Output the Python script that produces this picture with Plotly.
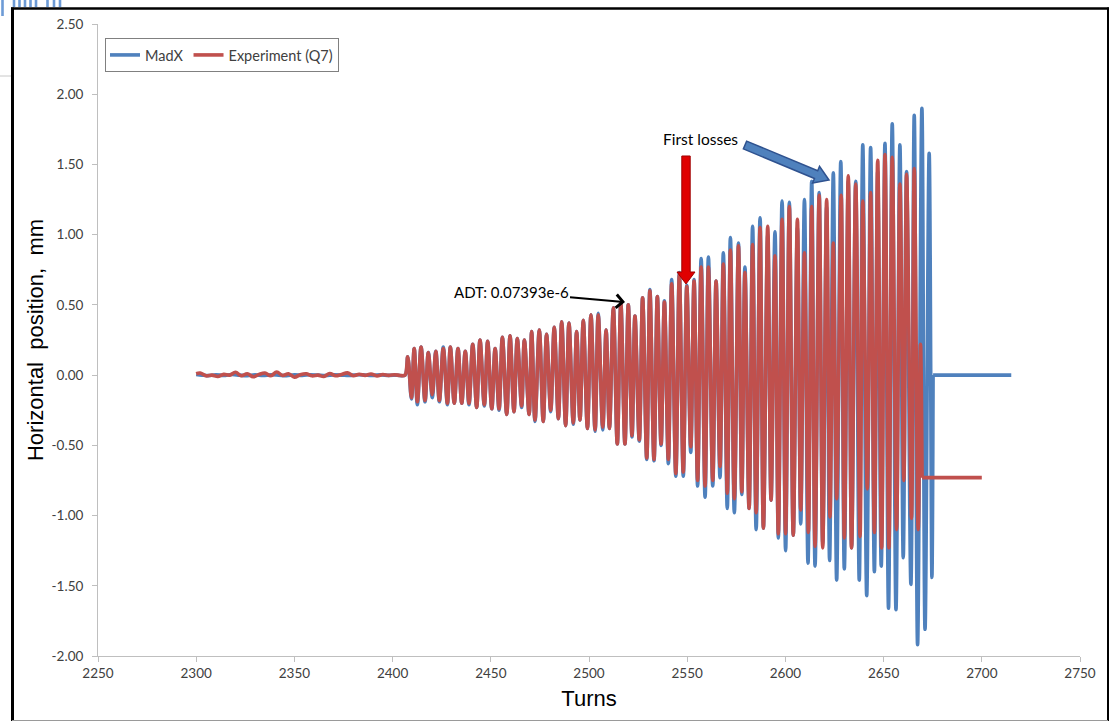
import math
import plotly.graph_objects as go

# ---------------- data ----------------
# MadX simulation: turn numbers and horizontal position (mm), extrema of the trace
mx_turns = [2300, 2303, 2306, 2310, 2314, 2318, 2322, 2326, 2330, 2334, 2338, 2342,
            2346, 2350, 2354, 2358, 2362, 2366, 2370, 2374, 2378, 2382, 2386, 2390,
            2394, 2398, 2402, 2406.3,
            2407.7, 2409.6, 2411.0, 2412.6, 2414.5, 2416.5, 2418.2, 2420.2, 2422.0, 2423.8,
            2425.8, 2427.9, 2429.4, 2431.4, 2433.3, 2435.2, 2437.0, 2438.9, 2440.8, 2442.8,
            2444.5, 2446.7, 2448.4, 2450.5, 2452.2, 2454.2, 2455.9, 2458.1, 2459.8, 2461.8,
            2463.5, 2465.7, 2467.1, 2469.5, 2470.8, 2472.5, 2474.7, 2476.7, 2478.4, 2480.5,
            2482.3, 2484.4, 2486.1, 2488.1, 2489.8, 2492.0, 2493.7, 2495.4, 2497.1, 2499.2,
            2501.0, 2503.1, 2504.7, 2507.0, 2508.7, 2510.4, 2512.4, 2514.4, 2516.2, 2518.3,
            2520.0, 2521.9, 2523.4, 2525.6, 2527.3, 2529.4, 2531.0, 2533.1, 2534.8, 2536.7,
            2538.4, 2540.4, 2542.1, 2544.2, 2546.0, 2548.0, 2549.8, 2551.8, 2553.5, 2555.3,
            2557.1, 2559.1, 2560.8, 2563.0, 2564.7, 2566.7, 2568.4, 2570.4, 2572.0, 2574.0,
            2576.1, 2577.8, 2579.4, 2581.5, 2583.3, 2585.1, 2587.1, 2588.8, 2591.0, 2592.7,
            2594.7, 2596.4, 2598.3, 2600.1, 2602.0, 2604.0, 2606.1, 2607.8, 2609.7, 2611.5,
            2613.4, 2615.1, 2617.2, 2619.0, 2621.0, 2622.5, 2624.4, 2626.1, 2628.2, 2630.0,
            2632.0, 2633.7, 2635.8, 2637.6, 2639.4, 2641.4, 2643.4, 2645.3, 2647.0, 2648.8,
            2650.7, 2652.5, 2654.4, 2656.3, 2658.3, 2660.0, 2661.7, 2663.9, 2665.6, 2667.3,
            2669.5, 2671.1, 2673.2, 2674.6, 2675.2]
mx_pos = [0.005, 0.0, -0.004, 0.003, -0.003, 0.004, 0.0, -0.004, 0.002, -0.003, 0.003, 0.0,
          -0.004, 0.002, -0.002, 0.003, 0.0, -0.003, 0.002, 0.0, -0.003, 0.003, 0.0, -0.002,
          0.002, -0.002, 0.0, 0.0,
          0.13, -0.17, 0.19, -0.21, 0.20, -0.19, 0.16, -0.16, 0.17, -0.19,
          0.20, -0.21, 0.20, -0.20, 0.19, -0.20, 0.17, -0.21, 0.22, -0.23,
          0.25, -0.22, 0.24, -0.24, 0.19, -0.25, 0.27, -0.28, 0.28, -0.26,
          0.26, -0.23, 0.25, -0.28, 0.31, -0.33, 0.32, -0.33, 0.29, -0.26,
          0.34, -0.31, 0.38, -0.36, 0.37, -0.35, 0.31, -0.32, 0.39, -0.38,
          0.43, -0.40, 0.44, -0.39, 0.32, -0.38, 0.48, -0.49, 0.51, -0.49,
          0.50, -0.44, 0.42, -0.47, 0.55, -0.60, 0.61, -0.61, 0.56, -0.50,
          0.53, -0.63, 0.68, -0.72, 0.73, -0.72, 0.64, -0.55, 0.68, -0.79,
          0.83, -0.87, 0.84, -0.79, 0.67, -0.73, 0.87, -0.95, 0.98, -0.98,
          0.94, -0.85, 0.77, -0.95, 1.06, -1.10, 1.12, -1.09, 1.00, -0.89,
          1.02, -1.16, 1.24, -1.25, 1.23, -1.14, 1.05, -1.06, 1.25, -1.34,
          1.38, -1.36, 1.30, -1.20, 1.20, -1.32, 1.44, -1.46, 1.52, -1.38,
          1.38, -1.23, 1.38, -1.46, 1.64, -1.57, 1.62, -1.40, 1.45, -1.36,
          1.65, -1.66, 1.79, -1.67, 1.64, -1.30, 1.45, -1.49, 1.85, -1.92,
          1.90, -1.81, 1.58, -1.44, 0.0]
mx_tail_turns = [2675.2, 2715]
mx_tail_pos = [0.0, 0.0]

# Experiment (Q7)
ex_turns = [2300, 2302, 2305, 2308, 2311, 2314, 2317, 2320, 2323, 2326, 2329, 2332,
            2335, 2338, 2341, 2344, 2347, 2350, 2353, 2356, 2359, 2362, 2365, 2368,
            2371, 2374, 2377, 2380, 2383, 2386, 2389, 2392, 2395, 2398, 2401, 2404, 2406.3,
            2407.7, 2409.6, 2411.0, 2412.6, 2414.5, 2416.5, 2418.2, 2420.2, 2422.0, 2423.8,
            2425.8, 2427.9, 2429.4, 2431.4, 2433.3, 2435.2, 2437.0, 2438.9, 2440.8, 2442.8,
            2444.5, 2446.7, 2448.4, 2450.5, 2452.2, 2454.2, 2455.9, 2458.1, 2459.8, 2461.8,
            2463.5, 2465.7, 2467.1, 2469.5, 2470.8, 2472.5, 2474.7, 2476.7, 2478.4, 2480.5,
            2482.3, 2484.4, 2486.1, 2488.1, 2489.8, 2492.0, 2493.7, 2495.4, 2497.1, 2499.2,
            2501.0, 2503.1, 2504.7, 2507.0, 2508.7, 2510.4, 2512.4, 2514.4, 2516.2, 2518.3,
            2520.0, 2521.9, 2523.4, 2525.6, 2527.3, 2529.4, 2531.0, 2533.1, 2534.8, 2536.7,
            2538.4, 2540.4, 2542.1, 2544.2, 2546.0, 2548.0, 2549.8, 2551.8, 2553.5, 2555.3,
            2557.1, 2559.1, 2560.8, 2563.0, 2564.7, 2566.7, 2568.4, 2570.4, 2572.0, 2574.0,
            2576.1, 2577.8, 2579.4, 2581.5, 2583.3, 2585.1, 2587.1, 2588.8, 2591.0, 2592.7,
            2594.7, 2596.4, 2598.3, 2600.1, 2602.0, 2604.0, 2606.1, 2607.8, 2609.7, 2611.7,
            2613.4, 2615.1, 2617.2, 2619.0, 2621.0, 2622.7, 2624.4, 2626.1, 2628.4, 2630.0,
            2632.0, 2633.7, 2635.8, 2638.0, 2639.4, 2641.7, 2643.4, 2645.3, 2647.0, 2649.0,
            2650.7, 2652.7, 2654.4, 2656.6, 2658.3, 2660.3, 2661.7, 2664.2, 2665.6, 2667.6,
            2668.8, 2669.6]
ex_pos = [0.01, 0.015, -0.005, 0.0, -0.01, 0.005, 0.0, 0.02, -0.005, 0.01, -0.012, 0.005,
          0.015, -0.005, 0.022, -0.003, 0.01, -0.015, 0.003, 0.01, -0.005, 0.0, -0.01, 0.012,
          -0.005, 0.005, 0.016, -0.004, 0.006, -0.002, 0.008, -0.006, 0.004, -0.002, 0.003, -0.003, 0.0,
          0.13, -0.16, 0.19, -0.19, 0.20, -0.18, 0.16, -0.14, 0.17, -0.18,
          0.19, -0.20, 0.20, -0.20, 0.19, -0.20, 0.17, -0.20, 0.22, -0.23,
          0.25, -0.21, 0.24, -0.24, 0.19, -0.24, 0.27, -0.28, 0.28, -0.26,
          0.26, -0.22, 0.25, -0.28, 0.31, -0.32, 0.32, -0.33, 0.29, -0.25,
          0.34, -0.31, 0.38, -0.36, 0.37, -0.34, 0.31, -0.32, 0.39, -0.38,
          0.43, -0.39, 0.43, -0.37, 0.32, -0.38, 0.48, -0.49, 0.51, -0.49,
          0.50, -0.43, 0.42, -0.46, 0.55, -0.59, 0.60, -0.60, 0.56, -0.49,
          0.52, -0.60, 0.65, -0.70, 0.71, -0.69, 0.63, -0.51, 0.67, -0.75,
          0.77, -0.79, 0.77, -0.75, 0.67, -0.65, 0.79, -0.84, 0.89, -0.88,
          0.92, -0.83, 0.73, -0.95, 0.93, -0.98, 1.05, -1.09, 1.06, -0.89,
          0.85, -1.13, 1.11, -1.13, 1.20, -1.14, 1.11, -0.96, 0.87, -1.12,
          1.20, -1.22, 1.28, -1.23, 1.25, -1.01, 0.94, -0.88, 1.28, -1.16,
          1.42, -1.23, 1.36, -1.15, 1.24, -0.81, 1.30, -1.12, 1.53, -1.23,
          1.57, -1.23, 1.55, -1.10, 1.36, -0.75, 1.43, -1.02, 1.47, -1.10,
          0.22, -0.73]
ex_tail_turns = [2669.6, 2700]
ex_tail_pos = [-0.73, -0.73]

x_ticks = [2250, 2300, 2350, 2400, 2450, 2500, 2550, 2600, 2650, 2700, 2750]
y_ticks = [-2.0, -1.5, -1.0, -0.5, 0.0, 0.5, 1.0, 1.5, 2.0, 2.5]

BLUE = "#4F81BD"
RED = "#C0504D"
FONT = "Lato, 'Open Sans', sans-serif"

# ---------------- geometry helpers (page pixels -> paper) ----------------
L, R, T, B = 98, 1080, 24, 656
W, H = 1115, 721


def pxx(px):
    return (px - L) / (R - L)


def pxy(py):
    return (B - py) / (B - T)


def to_data(px, py):
    return (2250 + (px - L) / (R - L) * 500, 2.5 - (py - T) / (B - T) * 4.5)


def block_arrow(x0, y0, x1, y1, shw, hhw, hlen):
    dx, dy = x1 - x0, y1 - y0
    ln = math.hypot(dx, dy)
    ux, uy = dx / ln, dy / ln
    nx, ny = -uy, ux
    bx, by = x1 - ux * hlen, y1 - uy * hlen
    pts = [(x0 + nx * shw, y0 + ny * shw), (bx + nx * shw, by + ny * shw),
           (bx + nx * hhw, by + ny * hhw), (x1, y1),
           (bx - nx * hhw, by - ny * hhw), (bx - nx * shw, by - ny * shw),
           (x0 - nx * shw, y0 - ny * shw)]
    return "M " + " L ".join(f"{pxx(x):.5f},{pxy(y):.5f}" for x, y in pts) + " Z"


fig = go.Figure()
line_kw = dict(shape="spline", smoothing=1.0)
fig.add_trace(go.Scatter(x=mx_turns, y=mx_pos, mode="lines", name="MadX",
                         line=dict(color=BLUE, width=3.6, **line_kw), legendgroup="mx"))
fig.add_trace(go.Scatter(x=mx_tail_turns, y=mx_tail_pos, mode="lines", name="MadX",
                         line=dict(color=BLUE, width=3.6), legendgroup="mx", showlegend=False))
fig.add_trace(go.Scatter(x=ex_turns, y=ex_pos, mode="lines", name="Experiment (Q7)",
                         line=dict(color=RED, width=3.6, **line_kw), legendgroup="ex"))
fig.add_trace(go.Scatter(x=ex_tail_turns, y=ex_tail_pos, mode="lines", name="Experiment (Q7)",
                         line=dict(color=RED, width=3.6), legendgroup="ex", showlegend=False))

tickfont = dict(family=FONT, size=13.5, color="#404040")
axis_common = dict(showline=True, linecolor="#BFBFBF", linewidth=1, ticks="outside",
                   ticklen=5, tickcolor="#BFBFBF", tickwidth=1, showgrid=False,
                   zeroline=False, tickfont=tickfont, automargin=False)

fig.update_xaxes(range=[2250, 2750], tickvals=x_ticks, ticktext=[str(v) for v in x_ticks],
                 title=dict(text="Turns", font=dict(family="Liberation Sans, Arial", size=22,
                                                    color="#000000"), standoff=10),
                 **axis_common)
fig.update_yaxes(range=[-2.0, 2.5], tickvals=y_ticks,
                 ticktext=[f"{v:.2f}" for v in y_ticks], ticklabelstandoff=6,
                 title=dict(text="Horizontal\u00a0 position,\u00a0 mm",
                            font=dict(family="Liberation Sans, Arial", size=22, color="#000000"),
                            standoff=1),
                 **axis_common)

shapes = []
# outer black frame (slide picture border)
shapes.append(dict(type="line", xref="paper", yref="paper", x0=pxx(12.5), x1=pxx(12.5),
                   y0=pxy(7.5), y1=pxy(721), line=dict(color="#000000", width=3)))
shapes.append(dict(type="line", xref="paper", yref="paper", x0=pxx(11), x1=pxx(1109),
                   y0=pxy(8.5), y1=pxy(8.5), line=dict(color="#000000", width=2.5)))
shapes.append(dict(type="line", xref="paper", yref="paper", x0=pxx(1108), x1=pxx(1108),
                   y0=pxy(7.5), y1=pxy(721), line=dict(color="#000000", width=2)))
shapes.append(dict(type="line", xref="paper", yref="paper", x0=pxx(12), x1=pxx(1108),
                   y0=pxy(720.5), y1=pxy(720.5), line=dict(color="#9A9A9A", width=1)))
# fragment of background slide at the top-left
shapes.append(dict(type="line", xref="paper", yref="paper", x0=pxx(0), x1=pxx(11),
                   y0=pxy(76), y1=pxy(76), line=dict(color="#C8C8C8", width=1)))
for bx_, bh_ in [(2.5, 16), (14, 7), (19.5, 7), (25, 7), (30.5, 7), (36, 7),
                 (47.5, 7), (54, 7), (60, 7)]:
    shapes.append(dict(type="rect", xref="paper", yref="paper", x0=pxx(bx_ - 1.3),
                       x1=pxx(bx_ + 1.3), y0=pxy(bh_), y1=pxy(0),
                       fillcolor="#6D9BD6", line=dict(width=0)))
# red "first losses" arrow
shapes.append(dict(type="path", xref="paper", yref="paper",
                   path=block_arrow(686, 156, 686, 284, 4.2, 9, 12),
                   fillcolor="#E00000", line=dict(color="#A00000", width=1)))
# blue "first losses" arrow
shapes.append(dict(type="path", xref="paper", yref="paper",
                   path=block_arrow(745, 145, 829, 180, 4.2, 9, 14),
                   fillcolor=BLUE, line=dict(color="#2F528F", width=1.5)))

tip = to_data(625, 302)
txt = to_data(511, 292)
annotations = [
    dict(x=tip[0], y=tip[1], xref="x", yref="y", ax=txt[0], ay=txt[1], axref="x", ayref="y",
         text="ADT: 0.07393e-6", showarrow=True, arrowhead=4, arrowsize=1.3, arrowwidth=2,
         arrowcolor="#000000", font=dict(family=FONT, size=15, color="#000000"), standoff=0),
    dict(x=pxx(700), y=pxy(139), xref="paper", yref="paper", text="First losses",
         xanchor="center", yanchor="middle", showarrow=False,
         font=dict(family=FONT, size=15.5, color="#000000")),
]

fig.update_layout(
    width=W, height=H,
    margin=dict(l=L, r=W - R, t=T, b=H - B, pad=0),
    paper_bgcolor="#FFFFFF", plot_bgcolor="#FFFFFF",
    showlegend=True,
    legend=dict(orientation="h", x=pxx(105), y=pxy(38), xanchor="left", yanchor="top",
                bordercolor="#808080", borderwidth=1, bgcolor="#FFFFFF",
                font=dict(family=FONT, size=14.5, color="#404040"),
                itemwidth=30, tracegroupgap=0),
    shapes=shapes, annotations=annotations,
)

fig.write_html("out.html")
